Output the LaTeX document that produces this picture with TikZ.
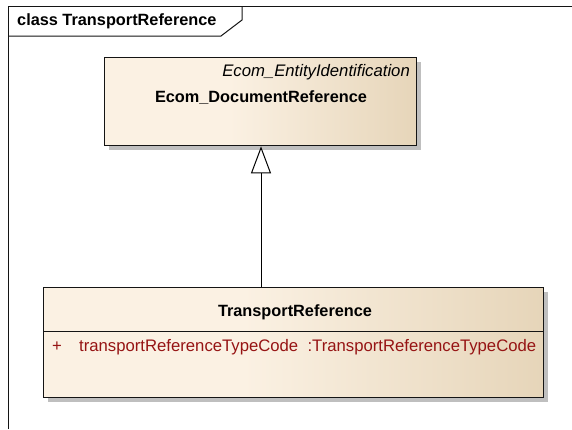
\documentclass[tikz,border=0pt]{standalone}
\usepackage{fontspec}
\setmainfont{Liberation Sans}
\usetikzlibrary{arrows.meta,shadows}
\definecolor{boxleft}{RGB}{251,241,227}
\definecolor{boxright}{RGB}{230,213,185}
\definecolor{attrred}{RGB}{150,20,20}
\definecolor{framegray}{RGB}{20,20,20}
\pgfdeclarehorizontalshading{umlshade}{100bp}{color(0bp)=(boxleft); color(25bp)=(boxleft); color(45bp)=(boxleft); color(75bp)=(boxright); color(100bp)=(boxright)}
\begin{document}
\begin{tikzpicture}[x=1pt,y=-1pt,
  umlbox/.style={draw=framegray, line width=1.3pt, shading=umlshade,
    anchor=north west, inner sep=0pt,
    drop shadow={shadow xshift=4pt, shadow yshift=-4pt, fill=black!25, opacity=1}},
  bold/.style={font=\fontsize{16.3}{19}\selectfont\bfseries, inner sep=0pt},
  ital/.style={font=\fontsize{16.7}{19}\selectfont\itshape, inner sep=0pt},
  attr/.style={font=\fontsize{16.7}{19}\selectfont, text=attrred, inner sep=0pt},
  gen/.style={draw=black, line width=1pt, -{Triangle[open, length=27pt, width=20pt, fill=white]}}
]
\useasboundingbox (0,0) rectangle (572,429);
\fill[white] (0,0) rectangle (572,429);
% frame
\draw[line width=1pt, framegray] (8,429) -- (8,6) -- (572,6);
\draw[line width=1pt, framegray] (8,36) -- (221,36) -- (242,20) -- (242,6);
\node[bold, anchor=west] (title) at (17,21) {class TransportReference};
% top class
\node[umlbox, minimum width=312pt, minimum height=88pt] (doc) at (104,57) {};
\node[ital, anchor=east] (stereo) at (410,72) {Ecom\_EntityIdentification};
\node[bold] (docname) at (261,98) {Ecom\_DocumentReference};
% bottom class
\node[umlbox, minimum width=500pt, minimum height=110pt] (tr) at (43,287) {};
\draw[line width=1pt, framegray] (tr.west |- 0,331) coordinate (dl) -- (tr.east |- 0,331) coordinate (dr);
\node[bold] (trname) at (295,312) {TransportReference};
\node[attr, anchor=west] (plus) at (52,347) {+};
\node[attr, anchor=west] (attrtext) at (79,347) {transportReferenceTypeCode\ \ :TransportReferenceTypeCode};
% generalization
\draw[gen] (tr.north -| docname) -- (doc.south -| docname);
\end{tikzpicture}
\end{document}
